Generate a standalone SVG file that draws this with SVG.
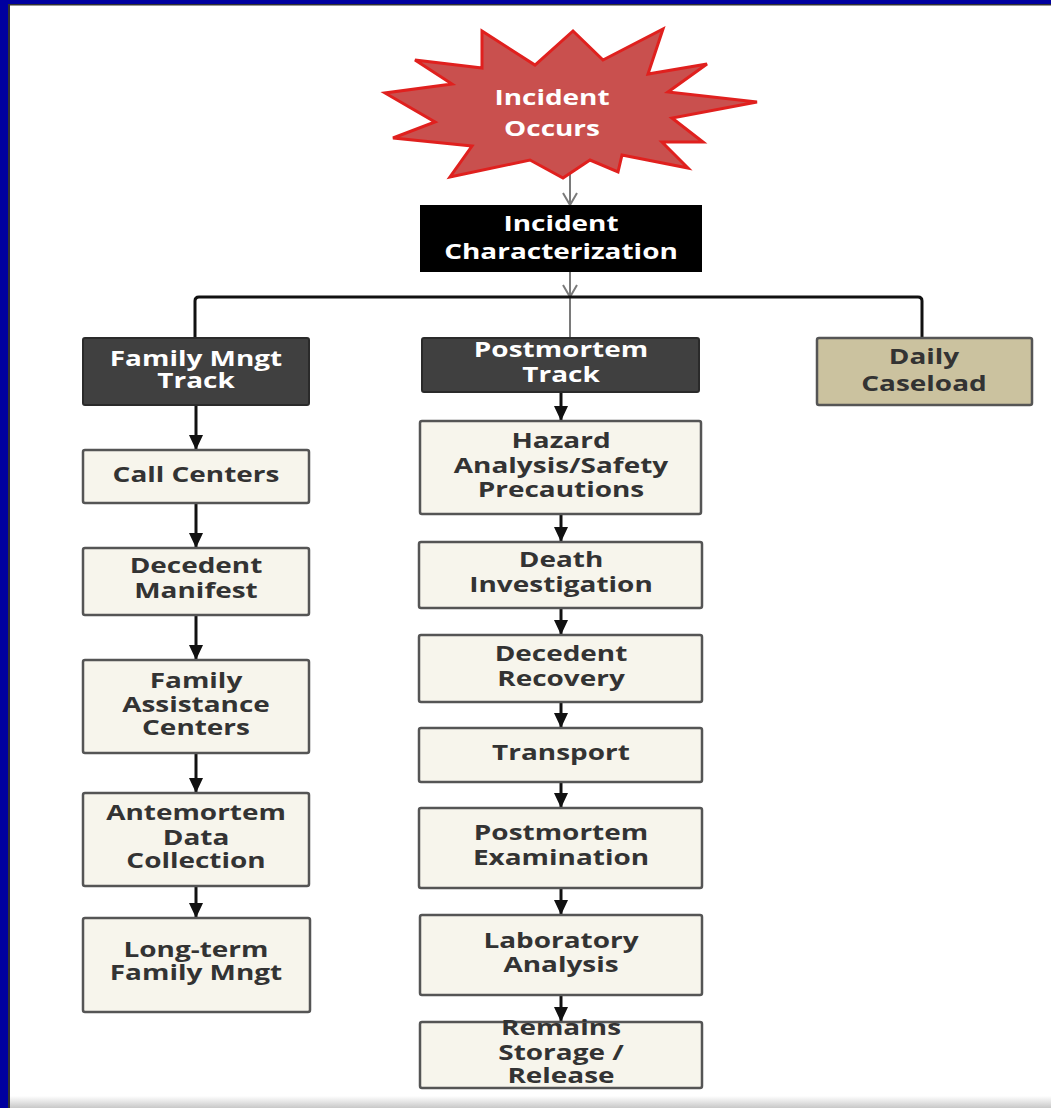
<svg xmlns="http://www.w3.org/2000/svg" width="1051" height="1108" viewBox="0 0 1051 1108">
<defs>
<style>
.box{fill:#f7f5ec;stroke:#555;stroke-width:2.5}
.dark{fill:#404040;stroke:#2a2a2a;stroke-width:2}
.tan{fill:#cbc29f;stroke:#555;stroke-width:2.5}
.t{font-family:"Open Sans","DejaVu Sans",sans-serif;font-weight:bold;font-size:21.5px;text-anchor:middle;fill:#333}
.w{fill:#fff}
.arr{stroke:#111;stroke-width:3;fill:none}
.gray{stroke:#7a7a7a;stroke-width:2;fill:none}
</style>
<marker id="ah" markerUnits="userSpaceOnUse" markerWidth="15" markerHeight="14" viewBox="0 0 15 14" refX="15" refY="7" orient="auto">
<path d="M0,0 L15,7 L0,14 z" fill="#111"/>
</marker>
<marker id="va" markerUnits="userSpaceOnUse" markerWidth="14" markerHeight="16" viewBox="0 0 14 16" refX="13" refY="8" orient="auto">
<path d="M1,1 L13,8 L1,15" fill="none" stroke="#7a7a7a" stroke-width="2"/>
</marker>
<linearGradient id="bot" x1="0" y1="0" x2="0" y2="1">
<stop offset="0" stop-color="#ffffff"/>
<stop offset="1" stop-color="#c8c8c8"/>
</linearGradient>
</defs>
<rect x="0" y="0" width="1051" height="1108" fill="#ffffff"/>
<rect x="0" y="1096" width="1051" height="12" fill="url(#bot)"/>
<rect x="0" y="0" width="1051" height="4" fill="#0000a0"/>
<rect x="0" y="0" width="8" height="1108" fill="#0000a0"/>
<rect x="8" y="4" width="1043" height="1.5" fill="#333"/>
<rect x="8" y="4" width="2" height="1104" fill="#333"/>

<g id="connectors">
<line class="gray" x1="570" y1="172" x2="570" y2="205" marker-end="url(#va)"/>
<line class="gray" x1="570" y1="272" x2="570" y2="297" marker-end="url(#va)"/>
<line class="gray" x1="570" y1="297" x2="570" y2="338"/>
<path class="arr" d="M195,338 L195,301 Q195,297 199,297 L918,297 Q922,297 922,301 L922,338"/>
<line class="arr" x1="196" y1="405" x2="196" y2="450" marker-end="url(#ah)"/>
<line class="arr" x1="196" y1="503" x2="196" y2="548" marker-end="url(#ah)"/>
<line class="arr" x1="196" y1="615" x2="196" y2="660" marker-end="url(#ah)"/>
<line class="arr" x1="196" y1="753" x2="196" y2="793" marker-end="url(#ah)"/>
<line class="arr" x1="196" y1="886" x2="196" y2="918" marker-end="url(#ah)"/>
<line class="arr" x1="561" y1="392" x2="561" y2="421" marker-end="url(#ah)"/>
<line class="arr" x1="561" y1="514" x2="561" y2="542" marker-end="url(#ah)"/>
<line class="arr" x1="561" y1="608" x2="561" y2="635" marker-end="url(#ah)"/>
<line class="arr" x1="561" y1="702" x2="561" y2="728" marker-end="url(#ah)"/>
<line class="arr" x1="561" y1="782" x2="561" y2="808" marker-end="url(#ah)"/>
<line class="arr" x1="561" y1="888" x2="561" y2="915" marker-end="url(#ah)"/>
<line class="arr" x1="561" y1="995" x2="561" y2="1022" marker-end="url(#ah)"/>
</g>

<g id="incident-occurs">
<polygon points="482,31 535,65 573,31 603,60 663,29 648,74 707,64 668,92 757,102 672,118 703,142 662,142 688,168 622,155 618,172 590,160 563,178 530,160 450,177 472,146 393,138 435,122 385,93 452,84 415,60 482,68" fill="#c9504e" stroke="#e0201e" stroke-width="3"/>
<text class="t w" transform="translate(552 0) scale(1.3 1)"><tspan x="0" y="105">Incident</tspan><tspan x="0" y="136">Occurs</tspan></text>
</g>

<g id="incident-characterization">
<rect x="420" y="205" width="282" height="67" fill="#000"/>
<text class="t w" transform="translate(561 0) scale(1.3 1)"><tspan x="0" y="231">Incident</tspan><tspan x="0" y="259">Characterization</tspan></text>
</g>

<g id="family-mngt-track">
<rect class="dark" x="83" y="338" width="226" height="67" rx="2"/>
<text class="t w" transform="translate(196 0) scale(1.3 1)"><tspan x="0" y="366.5">Family Mngt</tspan><tspan x="0" y="388.5">Track</tspan></text>
</g>

<g id="postmortem-track">
<rect class="dark" x="422" y="338" width="277" height="54" rx="2"/>
<text class="t w" transform="translate(561 0) scale(1.3 1)"><tspan x="0" y="357.5">Postmortem</tspan><tspan x="0" y="382.5">Track</tspan></text>
</g>

<g id="daily-caseload">
<rect class="tan" x="817" y="338" width="215" height="67" rx="2"/>
<text class="t" transform="translate(924 0) scale(1.3 1)"><tspan x="0" y="364.5">Daily</tspan><tspan x="0" y="391.5">Caseload</tspan></text>
</g>

<g id="call-centers">
<rect class="box" x="83" y="450" width="226" height="53" rx="2"/>
<text class="t" transform="translate(196 0) scale(1.3 1)"><tspan x="0" y="482.5">Call Centers</tspan></text>
</g>

<g id="decedent-manifest">
<rect class="box" x="83" y="548" width="226" height="67" rx="2"/>
<text class="t" transform="translate(196 0) scale(1.3 1)"><tspan x="0" y="573.5">Decedent</tspan><tspan x="0" y="598.5">Manifest</tspan></text>
</g>

<g id="family-assistance-centers">
<rect class="box" x="83" y="660" width="226" height="93" rx="2"/>
<text class="t" transform="translate(196 0) scale(1.3 1)"><tspan x="0" y="688.5">Family</tspan><tspan x="0" y="712.5">Assistance</tspan><tspan x="0" y="735.5">Centers</tspan></text>
</g>

<g id="antemortem-data-collection">
<rect class="box" x="83" y="793" width="226" height="93" rx="2"/>
<text class="t" transform="translate(196 0) scale(1.3 1)"><tspan x="0" y="820.5">Antemortem</tspan><tspan x="0" y="845.5">Data</tspan><tspan x="0" y="868.5">Collection</tspan></text>
</g>

<g id="long-term-family-mngt">
<rect class="box" x="83" y="918" width="227" height="94" rx="2"/>
<text class="t" transform="translate(196 0) scale(1.3 1)"><tspan x="0" y="957.5">Long-term</tspan><tspan x="0" y="980.5">Family Mngt</tspan></text>
</g>

<g id="hazard-analysis">
<rect class="box" x="420" y="421" width="281" height="93" rx="2"/>
<text class="t" transform="translate(561 0) scale(1.3 1)"><tspan x="0" y="448.5">Hazard</tspan><tspan x="0" y="473.5">Analysis/Safety</tspan><tspan x="0" y="497.5">Precautions</tspan></text>
</g>

<g id="death-investigation">
<rect class="box" x="419" y="542" width="283" height="66" rx="2"/>
<text class="t" transform="translate(561 0) scale(1.3 1)"><tspan x="0" y="567.5">Death</tspan><tspan x="0" y="592.5">Investigation</tspan></text>
</g>

<g id="decedent-recovery">
<rect class="box" x="419" y="635" width="283" height="67" rx="2"/>
<text class="t" transform="translate(561 0) scale(1.3 1)"><tspan x="0" y="661.5">Decedent</tspan><tspan x="0" y="686.5">Recovery</tspan></text>
</g>

<g id="transport">
<rect class="box" x="419" y="728" width="283" height="54" rx="2"/>
<text class="t" transform="translate(561 0) scale(1.3 1)"><tspan x="0" y="760.5">Transport</tspan></text>
</g>

<g id="postmortem-examination">
<rect class="box" x="419" y="808" width="283" height="80" rx="2"/>
<text class="t" transform="translate(561 0) scale(1.3 1)"><tspan x="0" y="840.5">Postmortem</tspan><tspan x="0" y="865.5">Examination</tspan></text>
</g>

<g id="laboratory-analysis">
<rect class="box" x="420" y="915" width="282" height="80" rx="2"/>
<text class="t" transform="translate(561 0) scale(1.3 1)"><tspan x="0" y="948.5">Laboratory</tspan><tspan x="0" y="972.5">Analysis</tspan></text>
</g>

<g id="remains-storage-release">
<rect class="box" x="420" y="1022" width="282" height="66" rx="2"/>
<text class="t" transform="translate(561 0) scale(1.3 1)"><tspan x="0" y="1035.5">Remains</tspan><tspan x="0" y="1060.5">Storage /</tspan><tspan x="0" y="1083.5">Release</tspan></text>
</g>
</svg>
